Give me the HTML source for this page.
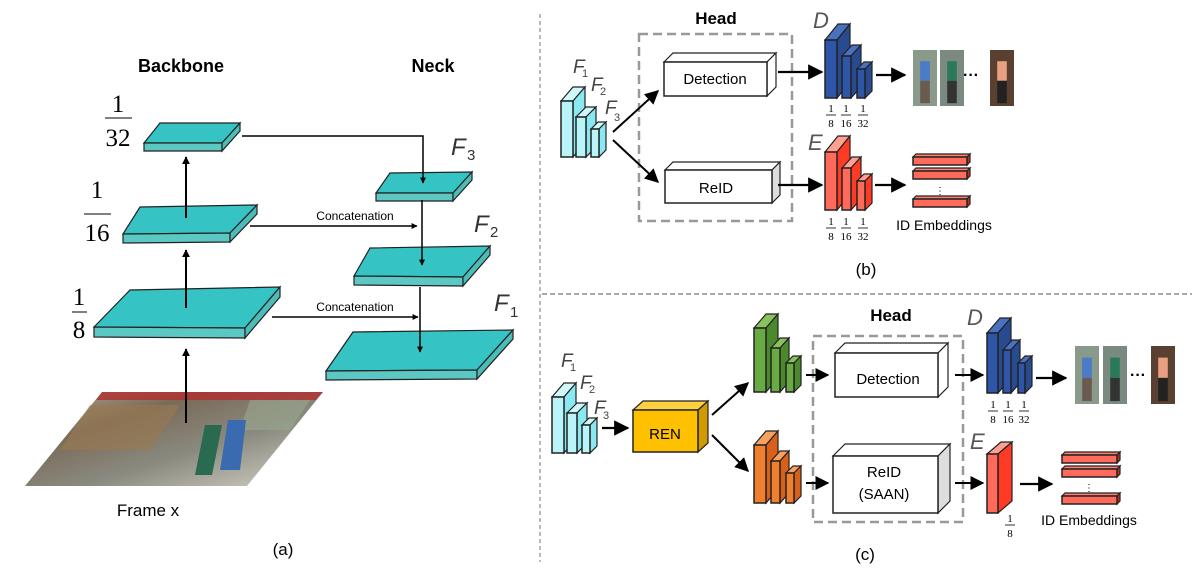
<!DOCTYPE html>
<html><head><meta charset="utf-8"><style>
body{margin:0;background:#fff;width:1192px;height:579px;overflow:hidden}
svg{display:block}
text{font-family:"Liberation Sans",sans-serif}
.s{font-family:"Liberation Serif",serif}
</style></head><body>
<svg id="sv" width="1192" height="579" viewBox="0 0 1192 579" xmlns="http://www.w3.org/2000/svg">
<defs>
<marker id="ah" viewBox="0 0 10 10" refX="9" refY="5" markerWidth="7" markerHeight="7" orient="auto-start-reverse"><path d="M0,0L10,5L0,10z" fill="#000"/></marker>
<marker id="ah2" viewBox="0 0 10 10" refX="9" refY="5" markerWidth="4" markerHeight="4" orient="auto"><path d="M0,0L10,5L0,10z" fill="#000"/></marker>
<linearGradient id="ph" x1="0" y1="0" x2="1" y2="1"><stop offset="0" stop-color="#b8a890"/><stop offset="0.3" stop-color="#7a6a58"/><stop offset="0.6" stop-color="#8a8a80"/><stop offset="1" stop-color="#d8d4c8"/></linearGradient>
</defs>
<g id="g"></g>
<line x1="540" y1="14" x2="540" y2="562" stroke="#777" stroke-dasharray="4,3" stroke-width="1"/>
<line x1="542" y1="294" x2="1192" y2="294" stroke="#555" stroke-dasharray="5,3" stroke-width="1"/>
<text x="181" y="72" font-size="18" font-weight="bold" text-anchor="middle">Backbone</text>
<text x="433" y="72" font-size="18" font-weight="bold" text-anchor="middle">Neck</text>
<g class="s" font-size="25" text-anchor="middle">
<text class="s" x="118" y="112">1</text><line x1="105" y1="118" x2="132" y2="118" stroke="#000"/><text class="s" x="118" y="146">32</text>
<text class="s" x="97" y="198">1</text><line x1="84" y1="214" x2="111" y2="214" stroke="#000"/><text class="s" x="97" y="241">16</text>
<text class="s" x="79" y="305">1</text><line x1="72" y1="312" x2="87" y2="312" stroke="#000"/><text class="s" x="79" y="338">8</text>
</g>
<g font-size="24" font-style="italic" fill="#333">
<text x="451" y="155">F</text><text x="467" y="160" font-size="15" font-style="normal">3</text>
<text x="474" y="232">F</text><text x="490" y="237" font-size="15" font-style="normal">2</text>
<text x="494" y="311">F</text><text x="510" y="317" font-size="15" font-style="normal">1</text>
</g>
<text x="355" y="220" font-size="12" text-anchor="middle">Concatenation</text>
<text x="355" y="311" font-size="12" text-anchor="middle">Concatenation</text>
<text x="148" y="516" font-size="17" text-anchor="middle">Frame x</text>
<text x="283" y="555" font-size="17" text-anchor="middle">(a)</text>
<text x="716" y="24" font-size="17" font-weight="bold" text-anchor="middle">Head</text>
<text x="715" y="84" font-size="15" text-anchor="middle">Detection</text>
<text x="716" y="193" font-size="15" text-anchor="middle">ReID</text>
<text x="944" y="230" font-size="14" text-anchor="middle">ID Embeddings</text>
<text x="866" y="275" font-size="17" text-anchor="middle">(b)</text>
<g font-size="19" font-style="italic" fill="#444">
<text x="573" y="73">F</text><text x="582" y="77" font-size="11" font-style="normal">1</text>
<text x="591" y="91">F</text><text x="600" y="95" font-size="11" font-style="normal">2</text>
<text x="605" y="114">F</text><text x="614" y="121" font-size="11" font-style="normal">3</text>
<text x="813" y="28" font-size="22" fill="#555">D</text>
<text x="808" y="150" font-size="22" fill="#555">E</text>
</g>
<text x="891" y="321" font-size="17" font-weight="bold" text-anchor="middle">Head</text>
<text x="888" y="384" font-size="15" text-anchor="middle">Detection</text>
<text x="884" y="477" font-size="15" text-anchor="middle">ReID</text>
<text x="884" y="499" font-size="15" text-anchor="middle">(SAAN)</text>
<text x="665" y="439" font-size="15" text-anchor="middle">REN</text>
<text x="1089" y="525" font-size="14" text-anchor="middle">ID Embeddings</text>
<text x="865" y="560" font-size="17" text-anchor="middle">(c)</text>
<g font-size="19" font-style="italic" fill="#444">
<text x="561" y="367">F</text><text x="570" y="371" font-size="11" font-style="normal">1</text>
<text x="580" y="389">F</text><text x="589" y="393" font-size="11" font-style="normal">2</text>
<text x="594" y="414">F</text><text x="603" y="419" font-size="11" font-style="normal">3</text>
<text x="967" y="325" font-size="22" fill="#555">D</text>
<text x="970" y="449" font-size="22" fill="#555">E</text>
</g>
<g id="fr"></g>
<text x="1138" y="380" font-size="16" font-weight="bold" text-anchor="middle">···</text>
<text x="971" y="80" font-size="16" font-weight="bold" text-anchor="middle">···</text>
</svg>
<script>
var g=document.getElementById('g'),h='';
function P(pts,f,s,sw){return '<polygon points="'+pts.map(p=>p.join(',')).join(' ')+'" fill="'+f+'" stroke="'+(s||'#222')+'" stroke-width="'+(sw||1.2)+'"/>';}
function plate(a,b,c,d,t){
 h+=P([a,b,c,d],'#36c3c3');
 h+=P([a,d,[d[0],d[1]+t],[a[0],a[1]+t]],'#5cc8c4');
 h+=P([d,c,[c[0],c[1]+t],[d[0],d[1]+t]],'#4cbcb8');
}
function L(x1,y1,x2,y2,m,w){h+='<line x1="'+x1+'" y1="'+y1+'" x2="'+x2+'" y2="'+y2+'" stroke="#000" stroke-width="'+(w||1.5)+'"'+(m?' marker-end="url(#'+m+')"':'')+'/>';}
function PL(pts,m,w){h+='<polyline points="'+pts.map(p=>p.join(',')).join(' ')+'" fill="none" stroke="#000" stroke-width="'+(w||1.5)+'"'+(m?' marker-end="url(#'+m+')"':'')+'/>';}
h+='<polygon points="102,392 323,392 247,486 25,486" fill="url(#ph)"/>';
h+='<polygon points="102,392 323,392 316,400 96,400" fill="#b03030" opacity="0.8"/>';
h+='<polygon points="90,405 180,405 150,450 60,450" fill="#9a7a50" opacity="0.6"/>';
h+='<polygon points="250,400 310,400 290,430 240,430" fill="#9aa890" opacity="0.6"/>';
h+='<polygon points="228,420 246,420 240,470 220,470" fill="#3a6ab0"/>';
h+='<polygon points="205,425 222,425 212,475 195,475" fill="#2a6a50"/>';
plate([94,327],[130,290],[280,287],[245,328],10);
plate([123,234],[140,207],[257,205],[230,233],9);
plate([144,143],[160,123],[240,123],[222,143],8);
plate([326,371],[353,332],[513,330],[477,370],9);
plate([354,276],[370,248],[490,246],[463,277],9);
plate([376,193],[390,173],[472,172],[453,193],8);
L(186,423,186,349,'ah2',2);L(186,308,186,250,'ah2',2);L(186,218,186,157,'ah2',2);
PL([[242,136],[423,136],[423,183]],'ah2');
L(422,200,422,265,'ah2');L(250,226,417,226,'ah2');
L(420,287,420,352,'ah2');L(272,317,418,317,'ah2');
function box(x,y,w,ht,dx,dy,f,side,top){
 h+=P([[x,y],[x+dx,y-dy],[x+w+dx,y-dy],[x+w,y]],top||f);
 h+=P([[x+w,y],[x+w+dx,y-dy],[x+w+dx,y+ht-dy],[x+w,y+ht]],side||f);
 h+='<rect x="'+x+'" y="'+y+'" width="'+w+'" height="'+ht+'" fill="'+f+'" stroke="#222" stroke-width="1.5"/>';
}
function bars(x0,yb,spec,f,side,top){spec.forEach(s=>box(s[0],s[2],s[1],yb-s[2],s[3],s[4],f,side,top));}
function cyan(x,yb){bars(0,yb,[[x,12,yb-56,12,14],[x+15,10,yb-40,10,10],[x+30,8,yb-28,7,7]],'#b8f4f8','#8ae8f0','#d0f8fa');}
cyan(561,157);
cyan(552,453);
h+='<rect x="639" y="34" width="153" height="187" fill="none" stroke="#999" stroke-width="2.5" stroke-dasharray="9,5"/>';
box(664,62,103,34,9,9,'#fff','#fff','#fff');
box(665,170,107,33,8,8,'#fff','#ddd','#fff');
L(613,132,658,91,'ah',2);L(613,140,658,182,'ah',2);
L(778,72,822,72,'ah',2.2);L(778,185,822,185,'ah',2.2);
function blue(x,yb){bars(0,yb,[[x,12,yb-58,13,16],[x+17,9,yb-42,10,11],[x+32,8,yb-29,7,7]],'#2e55a8','#284b90','#4a70c0');}
function red(x,yb){bars(0,yb,[[x,12,yb-58,13,16],[x+17,9,yb-42,10,11],[x+32,8,yb-29,7,7]],'#ff6a5a','#ff3a25','#ffa090');}
blue(825,98);red(825,210);
L(876,75,905,75,'ah',2.2);L(875,185,905,185,'ah',2.2);
function photos(xs,y,w,hh){xs.forEach((x,i)=>{h+='<rect x="'+x+'" y="'+y+'" width="'+w+'" height="'+hh+'" fill="'+['#8a9a8a','#7a8a80','#5a4030'][i]+'"/>';h+='<rect x="'+(x+w*0.3)+'" y="'+(y+hh*0.2)+'" width="'+(w*0.4)+'" height="'+(hh*0.35)+'" fill="'+['#4a7ac8','#2a7a5a','#e8a080'][i]+'"/>';h+='<rect x="'+(x+w*0.3)+'" y="'+(y+hh*0.55)+'" width="'+(w*0.4)+'" height="'+(hh*0.4)+'" fill="'+['#6a5a50','#333','#222'][i]+'"/>';});}
photos([913,940,990],50,24,56);
function emb(x,ys,w){ys.forEach(y=>box(x,y,w,8,3,3,'#ff6a5a','#c03020','#ff8070'));}
emb(913,[157,171,199],54);
h+='<text x="940" y="194" font-size="10" text-anchor="middle">⋮</text>';
L(602,428,628,428,'ah',2.2);
box(633,410,65,42,10,9,'#ffc000','#d09a00','#ffd040');
L(712,415,748,383,'ah',2);L(712,435,748,471,'ah',2);
bars(0,392,[[754,12,328,12,14],[771,9,348,9,10],[786,8,363,7,7]],'#6aaa44','#4a8a2c','#8ac060');
bars(0,503,[[754,12,445,12,14],[771,9,461,9,10],[786,8,473,7,7]],'#f08030','#d86018','#f8a060');
h+='<rect x="813" y="336" width="150" height="186" fill="none" stroke="#999" stroke-width="2.5" stroke-dasharray="9,5"/>';
L(806,375,828,375,'ah',2);L(806,483,828,483,'ah',2);
box(835,353,103,44,10,10,'#fff','#fff','#fff');
box(833,456,105,57,12,12,'#fff','#ddd','#fff');
L(955,375,983,375,'ah',2);L(955,483,983,483,'ah',2);
bars(0,393,[[987,11,333,13,15],[1003,8,350,9,10],[1018,7,363,7,7]],'#2e55a8','#284b90','#4a70c0');
L(1036,378,1066,378,'ah',2.2);
photos([1075,1103,1151],346,24,58);
box(987,454,11,59,14,12,'#ff6a5a','#ff3a25','#ffa090');
L(1020,484,1052,484,'ah',2.2);
emb(1062,[455,469,496],55);
h+='<text x="1089" y="491" font-size="10" text-anchor="middle">⋮</text>';
g.innerHTML=h;
var fr='';
function frac(x,y,d){fr+='<text class="s" x="'+x+'" y="'+y+'" font-size="11" text-anchor="middle">1</text><line x1="'+(x-5)+'" y1="'+(y+3)+'" x2="'+(x+5)+'" y2="'+(y+3)+'" stroke="#000" stroke-width="0.8"/><text class="s" x="'+x+'" y="'+(y+15)+'" font-size="11" text-anchor="middle">'+d+'</text>';}
[[831,'8'],[846,'16'],[863,'32']].forEach(a=>{frac(a[0],112,a[1]);frac(a[0],225,a[1]);});
frac(993,408,'8');frac(1008,408,'16');frac(1024,408,'32');
frac(1010,522,'8');
document.getElementById('fr').innerHTML=fr;
</script>
</body></html>
